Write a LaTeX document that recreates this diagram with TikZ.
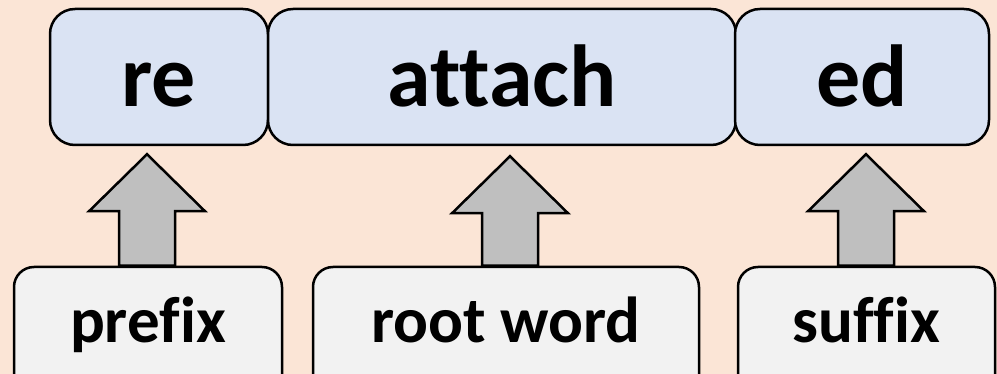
\documentclass[tikz,border=0pt]{standalone}
\usepackage{fontspec}
\setmainfont{Carlito}[Ligatures={NoCommon}]
\usetikzlibrary{calc}
\definecolor{pagebg}{HTML}{FBE5D6}
\definecolor{partfill}{HTML}{DAE3F3}
\definecolor{labelfill}{HTML}{F2F2F2}
\definecolor{arrowfill}{HTML}{BFBFBF}
\tikzset{
  part/.style={draw=black, line width=2.5pt, fill=partfill, rounded corners=25pt,
    inner sep=0pt, minimum height=136pt, text height=60pt, text depth=0pt,
    font=\fontsize{88}{88}\selectfont\bfseries},
  kind/.style={draw=black, line width=2.5pt, fill=labelfill, rounded corners=20pt,
    inner sep=0pt, minimum height=130pt, text height=22pt, text depth=0pt,
    font=\fontsize{65}{65}\selectfont\bfseries},
  blockarrow/.style={draw=black, line width=2.5pt, fill=arrowfill, line join=miter},
}
% upward block arrow from the tail point #1 to the tip point #2
\newcommand\uparrowblock[2]{%
  \draw[blockarrow] let \p1=(#1), \p2=(#2) in
    (\x1-28pt,\y1) -- (\x1-28pt,\y2-57pt) -- (\x1-58pt,\y2-57pt) -- (\x2,\y2)
    -- (\x1+58pt,\y2-57pt) -- (\x1+28pt,\y2-57pt) -- (\x1+28pt,\y1) -- cycle;}
\begin{document}
\begin{tikzpicture}[x=1pt, y=-1pt]
  \useasboundingbox (0,0) rectangle (997,374);
  \fill[pagebg] (0,0) rectangle (997,374);
  \clip (0,0) rectangle (997,374);

  % word parts
  \node[part, minimum width=218pt] (re) at (159,77) {re};
  \node[part, minimum width=468pt] (attach) at (502,77) {attach};
  \node[part, minimum width=254pt] (ed) at (862,77) {ed};

  % part labels
  \node[kind, minimum width=268pt] (prefix) at (148,332) {prefix};
  \node[kind, minimum width=386pt] (root) at (506,332) {root word};
  \node[kind, minimum width=257pt] (suffix) at (866.5,332) {suffix};

  % arrow tips just below the word parts
  \coordinate (tipre) at (re.south -| 147,0) ;
  \coordinate (tipattach) at (attach.south -| 510,0);
  \coordinate (tiped) at (ed.south -| 866,0);

  \uparrowblock{prefix.north -| tipre}{$(tipre)+(0,8)$}
  \uparrowblock{root.north -| tipattach}{$(tipattach)+(0,10)$}
  \uparrowblock{suffix.north -| tiped}{$(tiped)+(0,8)$}
\end{tikzpicture}
\end{document}
